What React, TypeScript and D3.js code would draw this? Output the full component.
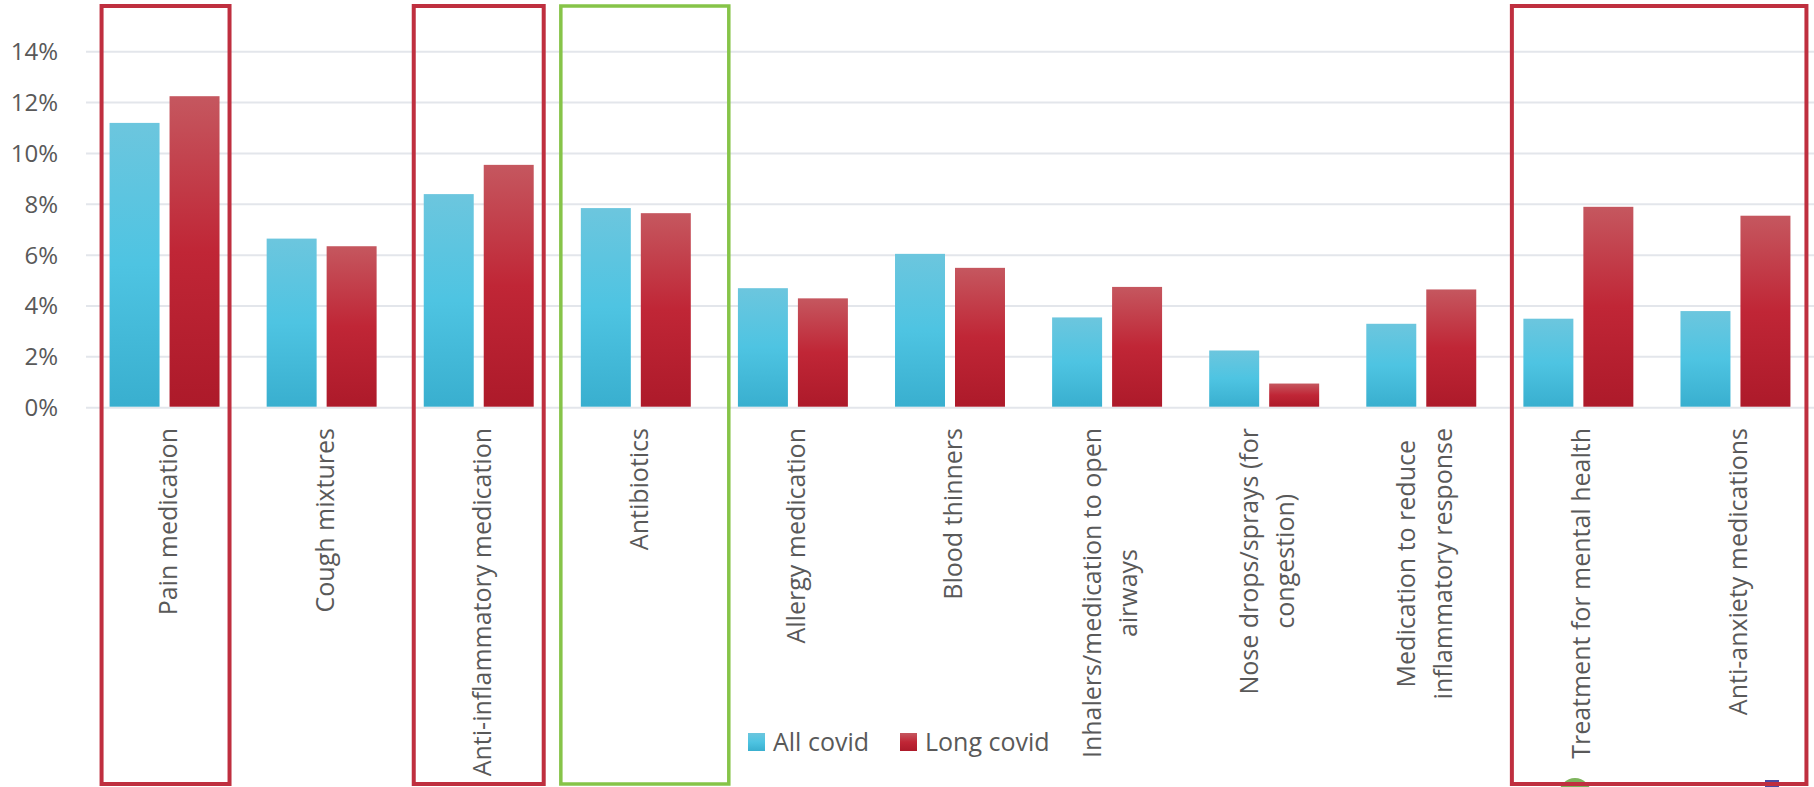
import React, { useEffect, useRef } from "react";
import * as d3 from "d3";

// Share of respondents taking each medication type (%)
const categoryLabels: string[][] = [
  ["Pain medication"],
  ["Cough mixtures"],
  ["Anti-inflammatory medication"],
  ["Antibiotics"],
  ["Allergy medication"],
  ["Blood thinners"],
  ["Inhalers/medication to open", "airways"],
  ["Nose drops/sprays (for", "congestion)"],
  ["Medication to reduce", "inflammatory response"],
  ["Treatment for mental health"],
  ["Anti-anxiety medications"],
];
const categories = categoryLabels.map((l) => l.join(" "));

const seriesNames = ["All covid", "Long covid"];
const allCovid = [11.2, 6.65, 8.4, 7.85, 4.7, 6.05, 3.55, 2.25, 3.3, 3.5, 3.8];
const longCovid = [12.25, 6.35, 9.55, 7.65, 4.3, 5.5, 4.75, 0.95, 4.65, 7.9, 7.55];

const yTicks = [0, 2, 4, 6, 8, 10, 12, 14];

// Highlighted groups of categories
const highlightGroups = [
  { from: 0, to: 0, kind: "red" },
  { from: 2, to: 2, kind: "red" },
  { from: 3, to: 3, kind: "green" },
  { from: 9, to: 10, kind: "red" },
];

const WIDTH = 1814;
const HEIGHT = 787;
const FONT = "'Open Sans', 'Noto Sans', sans-serif";
const TEXT = "#595959";

export default function App() {
  const ref = useRef<SVGSVGElement | null>(null);

  useEffect(() => {
    document.body.style.margin = "0";
    const svg = d3.select(ref.current);
    svg.selectAll("*").remove();

    const left = 86;
    const right = WIDTH;
    const y = d3.scaleLinear().domain([0, 14]).range([407.7, 51.7]);
    const x0 = d3
      .scaleBand<string>()
      .domain(categories)
      .range([left, right])
      .paddingInner(0.3)
      .paddingOuter(0.15);
    const x1 = d3
      .scaleBand<string>()
      .domain(seriesNames)
      .range([0, x0.bandwidth()])
      .paddingInner(1 / 6);

    const defs = svg.append("defs");
    const gradStops: Record<string, string[]> = {
      blue: ["#6CC6DE", "#4EC4E2", "#39AFCF"],
      red: ["#C5575F", "#C02636", "#AD1A2A"],
    };
    Object.entries(gradStops).forEach(([k, cols]) => {
      const g = defs
        .append("linearGradient")
        .attr("id", `grad-${k}`)
        .attr("x1", 0)
        .attr("y1", 0)
        .attr("x2", 0)
        .attr("y2", 1);
      g.append("stop").attr("offset", "0%").attr("stop-color", cols[0]);
      g.append("stop").attr("offset", "50%").attr("stop-color", cols[1]);
      g.append("stop").attr("offset", "100%").attr("stop-color", cols[2]);
    });

    // gridlines
    svg
      .append("g")
      .selectAll("line")
      .data(yTicks)
      .join("line")
      .attr("x1", left)
      .attr("x2", right)
      .attr("y1", (d) => y(d))
      .attr("y2", (d) => y(d))
      .attr("stroke", "#E3E6EB")
      .attr("stroke-width", 2);

    // y tick labels
    svg
      .append("g")
      .selectAll("text")
      .data(yTicks)
      .join("text")
      .attr("x", 58)
      .attr("y", (d) => y(d) + 8.5)
      .attr("text-anchor", "end")
      .attr("font-family", FONT)
      .attr("font-size", 24)
      .attr("fill", TEXT)
      .text((d) => `${d}%`);

    // bars
    const series = [
      { name: seriesNames[0], values: allCovid, fill: "url(#grad-blue)" },
      { name: seriesNames[1], values: longCovid, fill: "url(#grad-red)" },
    ];
    series.forEach((s) => {
      svg
        .append("g")
        .selectAll("rect")
        .data(s.values)
        .join("rect")
        .attr("x", (_, i) => (x0(categories[i]) as number) + (x1(s.name) as number))
        .attr("width", x1.bandwidth())
        .attr("y", (d) => y(d))
        .attr("height", (d) => y(0) - y(d) - 1)
        .attr("fill", s.fill);
    });

    // category labels, rotated
    const lineGap = 36.6;
    categoryLabels.forEach((lines, i) => {
      const cx = (x0(categories[i]) as number) + x0.bandwidth() / 2;
      const g = svg.append("g").attr("transform", `translate(${cx},428) rotate(-90)`);
      const texts = lines.map((ln, j) =>
        g
          .append("text")
          .attr("y", 12 + (j - (lines.length - 1) / 2) * lineGap)
          .attr("text-anchor", "middle")
          .attr("font-family", FONT)
          .attr("font-size", 25)
          .attr("fill", TEXT)
          .text(ln)
      );
      const maxW = d3.max(texts, (t) => (t.node() as SVGTextElement).getComputedTextLength()) || 0;
      texts.forEach((t) => t.attr("x", -maxW / 2));
    });

    // legend
    const legendItems = [
      { name: seriesNames[0], fill: "url(#grad-blue)", x: 748 },
      { name: seriesNames[1], fill: "url(#grad-red)", x: 900 },
    ];
    const lg = svg.append("g");
    legendItems.forEach((it) => {
      lg.append("rect").attr("x", it.x).attr("y", 733).attr("width", 17).attr("height", 18).attr("fill", it.fill);
      lg.append("text")
        .attr("x", it.x + 25)
        .attr("y", 751)
        .attr("font-family", FONT)
        .attr("font-size", 25)
        .attr("fill", TEXT)
        .text(it.name);
    });

    // small markers peeking in at the bottom edge
    svg.append("circle").attr("cx", 1575).attr("cy", 794).attr("r", 16).attr("fill", "#7DB45C");
    svg.append("rect").attr("x", 1765).attr("y", 780).attr("width", 14).attr("height", 14).attr("fill", "#4B4CA3");

    // highlight frames
    const boxPad: Record<string, [number, number]> = {
      "0": [8, 10],
      "2": [10, 10],
      "3": [20, 38],
      "9": [11.5, 16],
    };
    highlightGroups.forEach((h) => {
      const [pl, pr] = boxPad[String(h.from)];
      const xs = (x0(categories[h.from]) as number) - pl;
      const xe = (x0(categories[h.to]) as number) + x0.bandwidth() + pr;
      svg
        .append("rect")
        .attr("x", xs)
        .attr("y", 6)
        .attr("width", xe - xs)
        .attr("height", 778)
        .attr("fill", "none")
        .attr("stroke", h.kind === "red" ? "#BF2F3F" : "#86C448")
        .attr("stroke-width", h.kind === "red" ? 4 : 3.5);
    });
  }, []);

  return <svg ref={ref} width={WIDTH} height={HEIGHT} style={{ display: "block", background: "#fff" }} />;
}
